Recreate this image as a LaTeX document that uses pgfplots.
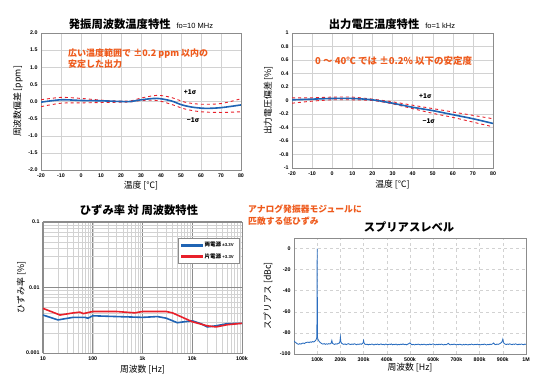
\documentclass[border=0pt]{standalone}
\usepackage{fontspec}
\setmainfont{Noto Sans CJK JP}
\newfontfamily\tickfont{Liberation Sans}
\usepackage{pgfplots}
\pgfplotsset{compat=1.18}
\definecolor{cblue}{HTML}{1F64B4}
\definecolor{sblue}{HTML}{2A6DBF}
\definecolor{cred}{HTML}{E8202A}
\definecolor{corange}{HTML}{EE5A1C}
\definecolor{cgrid}{HTML}{D2D2D2}
\definecolor{cframe}{HTML}{8C8C8C}
\pgfplotsset{
  base/.style={
    scale only axis, anchor=south west,
    axis line style={cframe, line width=0.6pt},
    major grid style={cgrid, line width=0.4pt},
    major tick length=0pt, minor tick length=0pt,
    ticklabel style={font=\fontsize{5.3}{6}\tickfont\bfseries},
    /pgf/number format/assume math mode=true,
    label style={font=\fontsize{8.8}{9}\selectfont},
    ylabel style={anchor=center},
    xlabel style={anchor=center},
  }
}
\begin{document}
\begin{tikzpicture}
\path[use as bounding box] (0,0) rectangle (533pt,388pt);
% titles
\node[font=\fontsize{11.3}{12}\selectfont\bfseries, anchor=center] at (141pt,364pt) {発振周波数温度特性\hspace{6pt}{\fontsize{7.5}{8}\tickfont\mdseries fo=10 MHz}};
\node[font=\fontsize{11.3}{12}\selectfont\bfseries, anchor=center] at (392pt,364pt) {出力電圧温度特性\hspace{6pt}{\fontsize{7.5}{8}\tickfont\mdseries fo=1 kHz}};
\node[font=\fontsize{11.3}{12}\selectfont\bfseries, anchor=center] at (139pt,178pt) {ひずみ率 対 周波数特性};
\node[font=\fontsize{11.3}{12}\selectfont\bfseries, anchor=center] at (409pt,161pt) {スプリアスレベル};
\node[font=\fontsize{8.8}{11.5}\selectfont\bfseries, text=corange, anchor=north west, align=left, inner sep=0pt] at (248pt,183pt) {アナログ発振器モジュールに\\匹敵する低ひずみ};

% ---------- top left ----------
\begin{axis}[base, at={(41pt,218pt)}, width=200pt, height=137pt,
  xmin=-20, xmax=80, ymin=-2, ymax=2,
  xtick={-20,-10,...,80}, ytick={-2,-1.5,...,2},
  yticklabel style={/pgf/number format/.cd, fixed, fixed zerofill, precision=1},
  grid=major,
  xlabel={温度 [℃]}, ylabel={周波数偏差 [ppm]},
  xlabel style={at={(axis description cs:0.5,-0.11)}},
  ylabel style={at={(axis description cs:-0.115,0.5)}},
]
\addplot[draw=cred, line width=0.9pt, dashed, smooth] coordinates {(-20,0.05) (-10,0.12) (0,0.09) (10,0.04) (20,0.01) (25,0.02) (30,0.1) (38,0.18) (45,0.12) (52,-0.02) (60,-0.08) (70,-0.06) (80,0.08)};
\addplot[draw=cred, line width=0.9pt, dashed, smooth] coordinates {(-20,-0.15) (-10,-0.05) (0,-0.04) (10,-0.03) (20,-0.02) (25,-0.01) (30,0.03) (38,0.03) (45,-0.08) (52,-0.22) (60,-0.3) (70,-0.32) (80,-0.3)};
\addplot[draw=cblue, line width=1.6pt, smooth] coordinates {(-20,-0.02) (-10,0.05) (0,0.03) (10,0.02) (20,0.0) (25,0.0) (30,0.05) (38,0.09) (45,0.02) (50,-0.09) (55,-0.16) (62,-0.2) (70,-0.18) (80,-0.1)};
\node[font=\fontsize{6.5}{7}\selectfont\bfseries, anchor=center] at (axis cs:54.5,0.27) {+1σ};
\node[font=\fontsize{6.5}{7}\selectfont\bfseries, anchor=center] at (axis cs:56,-0.54) {−1σ};
\node[font=\fontsize{9}{11.5}\selectfont\bfseries, text=corange, anchor=north west, align=left, inner sep=0pt] at (axis cs:-6.5,1.55) {広い温度範囲で ±0.2 ppm 以内の\\安定した出力};
\end{axis}

% ---------- top right ----------
\begin{axis}[base, at={(292pt,220pt)}, width=201pt, height=135pt,
  xmin=-20, xmax=80, ymin=-1, ymax=1,
  xtick={-20,-10,...,80}, ytick={-1,-0.8,...,1},
  grid=major,
  xlabel={温度 [℃]}, ylabel={出力電圧偏差 [\%]},
  xlabel style={at={(axis description cs:0.5,-0.119)}},
  ylabel style={at={(axis description cs:-0.119,0.5)}},
]
\addplot[draw=cred, line width=0.9pt, dashed, smooth] coordinates {(-20,0.04) (-10,0.04) (0,0.05) (10,0.05) (20,0.02) (30,-0.02) (40,-0.07) (50,-0.12) (60,-0.17) (70,-0.22) (80,-0.27)};
\addplot[draw=cred, line width=0.9pt, dashed, smooth] coordinates {(-20,-0.04) (-10,-0.01) (0,0.01) (10,0.01) (20,0.0) (30,-0.05) (40,-0.12) (50,-0.19) (60,-0.25) (70,-0.32) (80,-0.39)};
\addplot[draw=cblue, line width=1.6pt, smooth] coordinates {(-20,0.01) (-10,0.02) (0,0.03) (10,0.03) (20,0.01) (30,-0.04) (40,-0.1) (50,-0.15) (60,-0.21) (70,-0.27) (80,-0.34)};
\node[font=\fontsize{6.5}{7}\selectfont\bfseries, anchor=center] at (axis cs:46.3,0.06) {+1σ};
\node[font=\fontsize{6.5}{7}\selectfont\bfseries, anchor=center] at (axis cs:48,-0.31) {−1σ};
\node[font=\fontsize{9.5}{11}\selectfont\bfseries, text=corange, anchor=center, inner sep=0pt] at (axis cs:30.6,0.59) {0 ～ 40℃ では ±0.2\% 以下の安定度};
\end{axis}

% ---------- bottom left ----------
\begin{axis}[base, at={(43pt,35pt)}, width=199pt, height=131pt,
  xmode=log, ymode=log,
  xmin=10, xmax=100000, ymin=0.001, ymax=0.1,
  xtick={10,100,1000,10000,100000}, xticklabels={10,100,1k,10k,100k},
  ytick={0.001,0.01,0.1}, yticklabels={0.001,0.01,0.1},
  grid=both,
  major grid style={cframe, line width=1pt},
  minor grid style={cgrid, line width=0.35pt},
  xlabel={周波数 [Hz]}, ylabel={ひずみ率 [\%]},
  xlabel style={at={(axis description cs:0.5,-0.13)}},
  ylabel style={at={(axis description cs:-0.11,0.5)}},
  legend style={at={(0.985,0.878)}, anchor=north east, draw=cframe, fill=white,
    font=\fontsize{5.5}{6.5}\selectfont\bfseries, row sep=1pt},
  legend cell align=left,
]
\addplot[cblue, line width=1.6pt,
  legend image code/.code={\fill[cblue] (0pt,-0.9pt) rectangle (20pt,0.9pt);}]
  coordinates {(10,0.0038) (20,0.0032) (40,0.0035) (70,0.0035) (80,0.0034) (100,0.0037) (300,0.0036) (1000,0.0035) (2000,0.0036) (3000,0.0034) (5000,0.0029) (7000,0.0030) (10000,0.0031) (15000,0.0028) (20000,0.0025) (30000,0.0026) (50000,0.0028) (100000,0.00284)};
\addlegendentry{両電源 {\fontsize{4.3}{5}\tickfont ±3.3V}}
\addplot[cred, line width=1.6pt,
  legend image code/.code={\fill[cred] (0pt,-0.9pt) rectangle (20pt,0.9pt);}]
  coordinates {(10,0.0048) (22,0.0038) (41,0.0041) (55,0.0042) (65,0.0040) (100,0.0043) (300,0.0043) (700,0.0041) (1000,0.0043) (3000,0.0043) (4000,0.0041) (10000,0.0030) (20000,0.0026) (30000,0.0025) (50000,0.0027) (100000,0.00284)};
\addlegendentry{片電源 {\fontsize{4.3}{5}\tickfont +3.3V}}
\end{axis}

% ---------- bottom right ----------
\begin{axis}[base, at={(294pt,34pt)}, width=232pt, height=116pt,
  xmin=0, xmax=1000, ymin=-100, ymax=10,
  xtick={100,200,...,1000}, xticklabels={100k,200k,300k,400k,500k,600k,700k,800k,900k,1M},
  ytick={-100,-80,...,0},
  grid=major, major grid style={cgrid, dashed, line width=0.5pt},
  xlabel={周波数 [Hz]}, ylabel={スプリアス [dBc]},
  xlabel style={at={(axis description cs:0.5,-0.12)}},
  ylabel style={at={(axis description cs:-0.112,0.5)}},
]
\addplot[draw=sblue, line width=0.85pt] coordinates {
(0,-87.5) (3,-88.4) (6,-88.9) (10,-89.6) (15,-90.4) (20,-90.8) (25,-90.2) (30,-90.6) (35,-89.9) (40,-89.6)
(45,-90.1) (50,-89.3) (55,-89.0) (60,-88.7) (65,-89.2) (70,-88.5) (75,-88.9) (80,-88.2) (85,-88.6) (90,-87.8)
(94,-86.9) (97,-85.5) (98.5,-84.0) (99.5,-45) (100,0) (100.5,-45) (101.5,-84.5) (103,-86) (106,-87.2) (110,-88.5)
(115,-89.4) (120,-90.2) (125,-90.6) (130,-90.1) (135,-90.8) (140,-90.3) (145,-90.7) (150,-90.2) (155,-90.5) (160,-89.8)
(163,-87.2) (166,-89.9) (170,-90.4) (175,-90.9) (180,-90.3) (185,-90.6) (190,-90.0) (195,-89.7) (198,-88.2) (200,-84.0)
(202,-88.5) (205,-89.8) (210,-90.5) (215,-90.9) (220,-90.4) (225,-91.1) (230,-90.6) (235,-90.2) (240,-90.8) (245,-91.0)
(250,-90.5) (255,-90.9) (260,-90.3) (265,-90.7) (270,-91.2) (275,-90.6) (280,-90.9) (285,-90.4) (290,-90.8) (295,-90.1)
(298,-89.2) (300,-87.3) (302,-89.5) (305,-90.6) (310,-91.0) (315,-90.7) (320,-91.3) (325,-90.8) (330,-91.1) (335,-90.5)
(340,-90.9) (345,-91.4) (350,-90.7) (355,-91.0) (360,-90.6) (365,-91.2) (370,-90.9) (375,-90.4) (380,-91.1) (385,-90.8)
(390,-91.3) (395,-90.6) (400,-90.9) (405,-91.2) (410,-90.7) (415,-91.0) (420,-90.5) (425,-91.3) (430,-90.8) (435,-91.1)
(440,-90.6) (445,-91.4) (450,-90.9) (455,-91.2) (460,-90.7) (465,-91.0) (470,-90.4) (475,-91.1) (480,-90.8) (485,-91.3)
(490,-90.7) (495,-90.2) (500,-89.4) (505,-90.8) (510,-91.2) (515,-90.9) (520,-91.4) (525,-90.8) (530,-91.1) (535,-90.6)
(540,-91.0) (545,-91.3) (550,-90.8) (555,-91.2) (560,-90.7) (565,-91.0) (570,-91.4) (575,-90.9) (580,-91.2) (585,-90.6)
(590,-91.1) (595,-90.8) (600,-90.4) (605,-91.0) (610,-91.3) (615,-90.8) (620,-91.2) (625,-90.7) (630,-91.1) (635,-90.6)
(640,-91.0) (645,-91.4) (650,-90.9) (655,-91.2) (660,-90.7) (665,-89.9) (670,-91.0) (675,-91.3) (680,-90.8) (685,-91.1)
(690,-90.6) (695,-91.0) (700,-91.3) (705,-90.9) (710,-91.2) (715,-90.7) (720,-91.1) (725,-91.5) (730,-90.9) (735,-91.3)
(740,-90.8) (745,-91.1) (750,-91.4) (755,-90.9) (760,-91.2) (765,-90.6) (770,-91.0) (775,-91.3) (780,-90.8) (785,-91.1)
(790,-90.7) (795,-91.2) (800,-90.9) (805,-91.3) (810,-90.8) (815,-91.1) (820,-90.6) (825,-91.0) (830,-91.4) (835,-90.9)
(840,-91.2) (845,-90.7) (850,-91.0) (855,-90.5) (860,-89.6) (865,-90.8) (870,-91.1) (875,-90.6) (880,-90.9) (885,-90.4)
(890,-89.8) (895,-88.9) (898,-87.5) (900,-86.0) (902,-88.2) (905,-89.9) (910,-90.6) (915,-91.0) (920,-90.5) (925,-90.9)
(930,-90.3) (935,-90.8) (940,-91.1) (945,-90.6) (950,-90.9) (955,-90.4) (960,-90.8) (965,-91.2) (970,-90.7) (975,-91.0)
(980,-90.5) (985,-90.9) (990,-91.2) (995,-90.6) (1000,-90.9)};
\end{axis}
\end{tikzpicture}
\end{document}
